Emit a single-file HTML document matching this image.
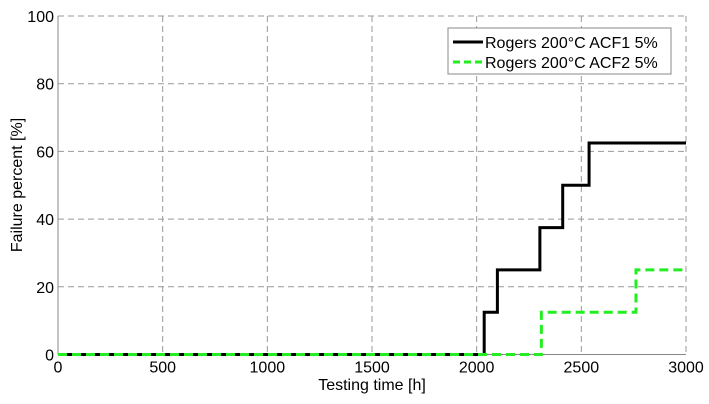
<!DOCTYPE html>
<html><head><meta charset="utf-8"><style>
body{margin:0;background:#fff;}
svg{display:block;font-family:"Liberation Sans",Arial,sans-serif;}
</style></head><body>
<svg id="chart" width="709" height="404">
<rect width="709" height="404" fill="#fff"/>
<g id="grid"></g>
<g id="axes"></g>
<g id="series"></g>
<text x="372" y="390" font-size="16" text-anchor="middle">Testing time [h]</text>
<text transform="translate(22,185) rotate(-90)" font-size="16" text-anchor="middle">Failure percent [%]</text>
<g>
<rect x="448" y="28" width="223" height="46" fill="#fff" stroke="#888" stroke-width="1"/>
<g>
<line x1="453" y1="42" x2="483" y2="42" stroke="#000" stroke-width="3"/>
<text x="485" y="48" font-size="16">Rogers 200°C ACF1 5%</text></g>
<g>
<line x1="453" y1="62" x2="483" y2="62" stroke="#22ee22" stroke-width="3" stroke-dasharray="7,4"/>
<text x="485" y="68" font-size="16">Rogers 200°C ACF2 5%</text></g>
</g>
</svg>
<script>
const xTicks=[0,500,1000,1500,2000,2500,3000];
const yTicks=[0,20,40,60,80,100];
const acf1X=[0,2036,2036,2099,2099,2302,2302,2411,2411,2537,2537,3000];
const acf1Y=[0,0,12.5,12.5,25,25,37.5,37.5,50,50,62.5,62.5];
const acf2X=[0,2309,2309,2761,2761,3000];
const acf2Y=[0,0,12.5,12.5,25,25];
const L=58,R=686,T=16,B=354.5;
const sx=v=>L+(v-0)/3000*(R-L);
const sy=v=>B-(v/100)*(B-T);
const NS="http://www.w3.org/2000/svg";
function mk(tag,attrs,parent){const e=document.createElementNS(NS,tag);for(const k in attrs)e.setAttribute(k,attrs[k]);parent.appendChild(e);return e;}
const grid=document.getElementById('grid'),axes=document.getElementById('axes'),series=document.getElementById('series');
xTicks.forEach(t=>{
 if(t>0){const g=mk('line',{x1:sx(t),x2:sx(t),y1:T,y2:B,stroke:'#999','stroke-dasharray':'6,4','stroke-width':1},grid);
 
 }
 const tx=mk('text',{x:sx(t),y:B+18,'font-size':16,'text-anchor':'middle'},axes);tx.textContent=t;
 
 
});
yTicks.forEach(t=>{
 if(t>0){const g=mk('line',{x1:L,x2:R,y1:sy(t),y2:sy(t),stroke:'#999','stroke-dasharray':'6,4','stroke-width':1},grid);
 
 }
 const tx=mk('text',{x:L-4,y:sy(t)+6,'font-size':16,'text-anchor':'end'},axes);tx.textContent=t;
 
 
});
mk('line',{x1:L,x2:L,y1:T,y2:B,stroke:'#888','stroke-width':1},axes);
mk('line',{x1:L,x2:R,y1:B,y2:B,stroke:'#888','stroke-width':1},axes);
function pts(xs,ys){return xs.map((x,i)=>sx(x)+','+sy(ys[i])).join(' ');}
const p1=mk('polyline',{points:pts(acf1X,acf1Y),fill:'none',stroke:'#000','stroke-width':3},series);


const p2=mk('polyline',{points:pts(acf2X,acf2Y),fill:'none',stroke:'#22ee22','stroke-width':3,'stroke-dasharray':'9,5'},series);


</script>
</body></html>
